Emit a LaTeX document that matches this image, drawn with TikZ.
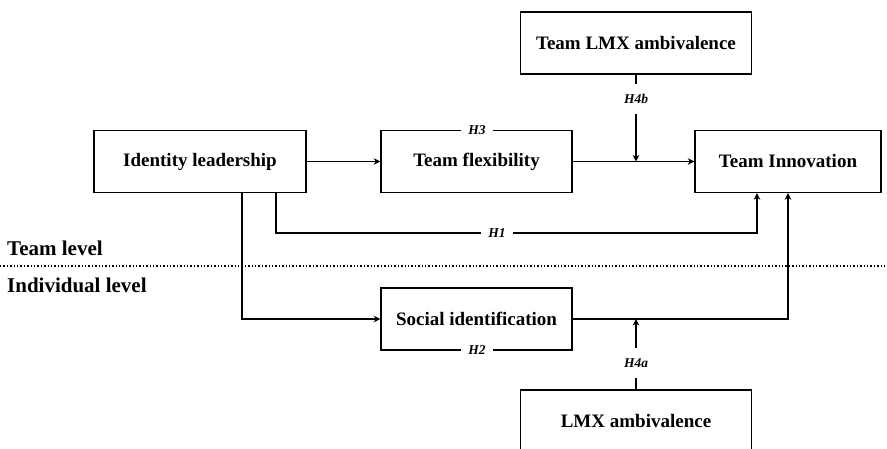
\documentclass[tikz,border=0pt]{standalone}
\usepackage{fontspec}
\setmainfont{Liberation Serif}
\usetikzlibrary{arrows.meta}
\begin{document}
\begin{tikzpicture}[x=1pt,y=-1pt,
 box/.style={draw,line width=1.4pt,minimum width=#1,minimum height=62pt,inner sep=0pt,font=\bfseries\fontsize{19}{22}\selectfont},
 box/.default=191pt,
 conn/.style={line width=1.6pt,-{Stealth[length=6.5pt,width=6.5pt,inset=2pt]}},
 hlab/.style={fill=white,inner xsep=7pt,inner ysep=2pt,font=\bfseries\itshape\fontsize{13.5}{15}\selectfont},
 vlab/.style={hlab,inner xsep=2pt,inner ysep=10pt},
 lev/.style={anchor=west,inner sep=0pt,font=\bfseries\fontsize{21}{24}\selectfont}]
\useasboundingbox (0,0) rectangle (887,449);
\clip (0,0) rectangle (887,449);
% boxes
\node[box=231pt] (tlmx) at (636,43) {Team LMX ambivalence};
\node[box=212pt] (il) at (200,161.5) {Identity leadership};
\node[box] (tf) at (476.5,161.5) {Team flexibility};
\node[box=186pt] (ti) at (788,161.5) {Team Innovation};
\node[box] (si) at (476.5,319) {Social identification};
\node[box=231pt] (lmx) at (636,421) {LMX ambivalence};
% helper coordinates
\coordinate (m1) at (636,161.5);
\coordinate (m2) at (636,319);
\coordinate (h1x) at (276,0);
\coordinate (h1c) at (757,233);
\coordinate (h1e) at (757,0);
\coordinate (h2x) at (242,0);
\coordinate (h2c) at (788,319);
\coordinate (dl) at (0,266);
\coordinate (dr) at (887,266);
% connectors
\draw[conn] (il) -- (tf);
\draw[conn] (tf) -- (ti);
\draw[conn] (tlmx) -- (m1);
\draw[conn] (il.south -| h1x) |- (h1c) -- (ti.south -| h1e);
\draw[conn] (il.south -| h2x) |- (si.west);
\draw[conn] (si.east) -- (h2c) -- (ti.south);
\draw[conn] (lmx) -- (m2);
% hypothesis labels
\node[vlab] at (636,99) {H4b};
\node[vlab] at (636,363) {H4a};
\node[hlab] at (497,233) {H1};
\node[hlab] at (477,130) {H3};
\node[hlab] at (477,350) {H2};
% level divider
\draw[line width=1.4pt,dotted] (dl) -- (dr);
\node[lev] (tl) at (7,248) {Team level};
\node[lev] (ivl) at (7,285) {Individual level};
\end{tikzpicture}
\end{document}
